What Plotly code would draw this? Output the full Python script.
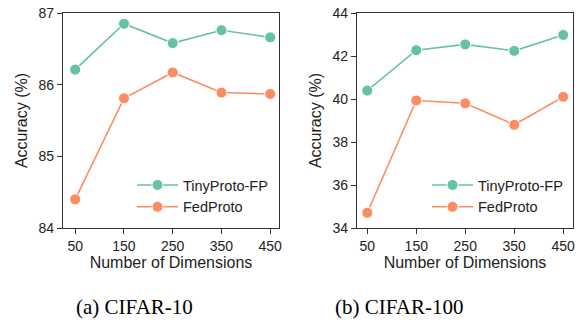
import plotly.graph_objects as go

dims = [50, 150, 250, 350, 450]
c10_tiny = [86.21, 86.85, 86.58, 86.76, 86.66]
c10_fed = [84.40, 85.81, 86.17, 85.89, 85.87]
c100_tiny = [40.39, 42.27, 42.54, 42.24, 42.98]
c100_fed = [34.71, 39.93, 39.80, 38.80, 40.10]

GREEN = "#66c2a5"
ORANGE = "#fc8d62"
AX = "#333333"
FONT = "Liberation Sans, Arial, sans-serif"
W, H = 579, 322

fig = go.Figure()

def add(x, y, name, color, xa, ya, leg):
    fig.add_trace(go.Scatter(
        x=x, y=y, name=name, mode="lines+markers",
        line=dict(color=color, width=1.6),
        marker=dict(size=11, color=color, line=dict(color="white", width=1)),
        xaxis=xa, yaxis=ya, legend=leg))

add(dims, c10_tiny, "TinyProto-FP", GREEN, "x", "y", "legend")
add(dims, c10_fed, "FedProto", ORANGE, "x", "y", "legend")
add(dims, c100_tiny, "TinyProto-FP", GREEN, "x2", "y2", "legend2")
add(dims, c100_fed, "FedProto", ORANGE, "x2", "y2", "legend2")

ybot = (H - 228) / H
ytop = (H - 13) / H

common_x = dict(showline=True, linecolor=AX, linewidth=1.3, mirror=True,
                ticks="outside", ticklen=5, tickwidth=1.3, tickcolor=AX,
                tickvals=dims, showgrid=False, zeroline=False, automargin=False,
                tickfont=dict(family=FONT, size=14, color="#222"),
                title=dict(text="Number of Dimensions", standoff=2,
                           font=dict(family=FONT, size=16, color="#222")))
common_y = dict(showline=True, linecolor=AX, linewidth=1.3, mirror=True,
                ticks="outside", ticklen=5, tickwidth=1.3, tickcolor=AX,
                showgrid=False, zeroline=False, automargin=False,
                tickfont=dict(family=FONT, size=14, color="#222"),
                title=dict(text="Accuracy (%)", standoff=6,
                           font=dict(family=FONT, size=16, color="#222")))

LEG = dict(xanchor="left", yanchor="top", bgcolor="rgba(0,0,0,0)", itemwidth=41,
           font=dict(family=FONT, size=14.5, color="#222"), tracegroupgap=0)

fig.update_layout(
    template="none",
    width=W, height=H,
    margin=dict(l=0, r=0, t=0, b=0, autoexpand=False),
    plot_bgcolor="white", paper_bgcolor="white",
    xaxis=dict(domain=[63 / W, 279 / W], range=[25, 468], anchor="y", **common_x),
    yaxis=dict(domain=[ybot, ytop], range=[84, 87], dtick=1, anchor="x", **common_y),
    xaxis2=dict(domain=[357 / W, 573 / W], range=[29, 470], anchor="y2", **common_x),
    yaxis2=dict(domain=[ybot, ytop], range=[34, 44], dtick=2, anchor="x2", **common_y),
    legend=dict(x=132 / W, y=1 - 169 / H, **LEG),
    legend2=dict(x=427 / W, y=1 - 169 / H, **LEG),
    showlegend=True,
)

CAP = dict(family="Liberation Serif, Times New Roman, serif", size=21, color="black")
fig.add_annotation(text="(a) CIFAR-10", x=134 / W, y=1 - 307 / H, xref="paper", yref="paper",
                   showarrow=False, xanchor="center", yanchor="middle", font=CAP)
fig.add_annotation(text="(b) CIFAR-100", x=399 / W, y=1 - 307 / H, xref="paper", yref="paper",
                   showarrow=False, xanchor="center", yanchor="middle", font=CAP)

fig.write_html("out.html", config={"displayModeBar": False},
               post_script="document.body.style.margin='0';document.body.style.overflow='hidden';")
